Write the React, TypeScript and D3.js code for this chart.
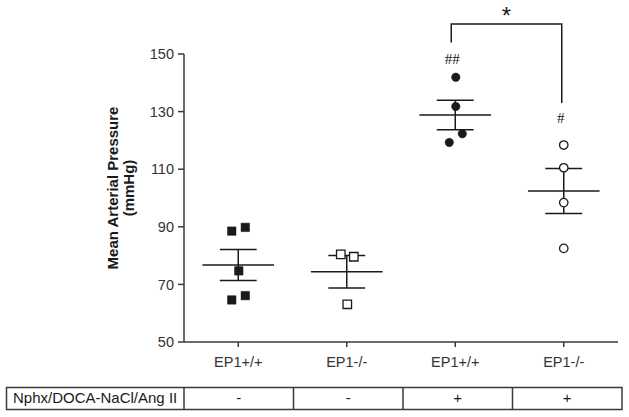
import React from "react";
import * as d3 from "d3";

// ---- data ----
const categories = ["EP1+/+", "EP1-/-", "EP1+/+", "EP1-/-"];
const treatment = ["-", "-", "+", "+"];
const treatmentLabel = "Nphx/DOCA-NaCl/Ang II";
const wtControl = [88.5, 89.8, 74.7, 64.6, 66.1];
const koControl = [80.4, 79.6, 63.1];
const wtTreated = [141.9, 131.8, 122.3, 119.3];
const koTreated = [118.4, 110.5, 98.4, 82.5];
// horizontal scatter of points, as a fraction of the category step
const wtControlJitter = [-0.06, 0.065, 0.005, -0.06, 0.065];
const koControlJitter = [-0.055, 0.065, 0.005];
const wtTreatedJitter = [0.005, 0.005, 0.065, -0.055];
const koTreatedJitter = [0, 0, 0, 0];
const yTicks = [50, 70, 90, 110, 130, 150];
const yTitle = ["Mean Arterial Pressure", "(mmHg)"];
const groupMarks = ["", "", "##", "#"];
const sigLabel = "*";

const groups = [
  { values: wtControl, jitter: wtControlJitter, shape: "square", filled: true },
  { values: koControl, jitter: koControlJitter, shape: "square", filled: false },
  { values: wtTreated, jitter: wtTreatedJitter, shape: "circle", filled: true },
  { values: koTreated, jitter: koTreatedJitter, shape: "circle", filled: false },
];

const W = 629;
const H = 417;
const SANS = "'Liberation Sans', Arial, sans-serif";
const SERIF = "'Liberation Serif', 'Times New Roman', serif";
const INK = "#1a1a1a";
const AX = "#3a3a3a";

export default function App() {
  const idx = categories.map((_, i) => String(i));
  const x = d3.scalePoint<string>().domain(idx).range([184, 618]).padding(0.5);
  const step = x.step();
  const y = d3.scaleLinear().domain([50, 150]).range([342, 54]);
  const tableX = d3.scaleBand<string>().domain(idx).range([184, 622]);

  const squarePath = d3.symbol().type(d3.symbolSquare).size(72)()!;
  const circlePath = d3.symbol().type(d3.symbolCircle).size(56)()!;

  const stats = groups.map((g) => {
    const m = d3.mean(g.values)!;
    const sd = d3.deviation(g.values)!;
    return { mean: m, sem: sd / Math.sqrt(g.values.length) };
  });

  const meanHalf = step * 0.33;
  const capHalf = step * 0.17;

  // significance bracket between treated groups
  const bx1 = x("2")! - 4;
  const bx2 = x("3")! - 2;
  const by = 24;

  return (
    <svg width={W} height={H} style={{ position: "absolute", left: 0, top: 0, background: "#fff" }}>
      {/* y axis */}
      <line x1={184} x2={184} y1={y(150)} y2={y(50)} stroke={AX} strokeWidth={1.5} />
      {yTicks.map((t) => (
        <g key={t}>
          <line x1={178} x2={184} y1={y(t)} y2={y(t)} stroke={AX} strokeWidth={1.5} />
          <text x={174} y={y(t)} dy="0.36em" textAnchor="end" fontFamily={SANS} fontSize={14.5} fill="#333">
            {t}
          </text>
        </g>
      ))}
      {/* x axis */}
      <line x1={184} x2={618} y1={y(50)} y2={y(50)} stroke={AX} strokeWidth={1.5} />
      {idx.map((k, i) => (
        <g key={k}>
          <line x1={x(k)} x2={x(k)} y1={y(50)} y2={y(50) + 5} stroke={AX} strokeWidth={1.5} />
          <text x={x(k)} y={367} textAnchor="middle" fontFamily={SANS} fontSize={14.5} fill="#333">
            {categories[i]}
          </text>
        </g>
      ))}
      {/* y title */}
      <g transform={`translate(118,188) rotate(-90)`}>
        <text x={0} y={0} textAnchor="middle" fontFamily={SANS} fontSize={15} fontWeight="bold" fill={INK}>
          {yTitle[0]}
        </text>
      </g>
      <g transform={`translate(134,188) rotate(-90)`}>
        <text x={0} y={0} textAnchor="middle" fontFamily={SANS} fontSize={15} fontWeight="bold" fill={INK}>
          {yTitle[1]}
        </text>
      </g>

      {/* mean ± SEM */}
      {groups.map((g, i) => {
        const cx = x(String(i))!;
        const s = stats[i];
        return (
          <g key={"e" + i} stroke={INK} strokeWidth={1.5}>
            <line x1={cx} x2={cx} y1={y(s.mean + s.sem)} y2={y(s.mean - s.sem)} />
            <line x1={cx - capHalf} x2={cx + capHalf} y1={y(s.mean + s.sem)} y2={y(s.mean + s.sem)} />
            <line x1={cx - capHalf} x2={cx + capHalf} y1={y(s.mean - s.sem)} y2={y(s.mean - s.sem)} />
            <line x1={cx - meanHalf} x2={cx + meanHalf} y1={y(s.mean)} y2={y(s.mean)} />
          </g>
        );
      })}

      {/* points */}
      {groups.map((g, i) =>
        g.values.map((v, j) => (
          <path
            key={`p${i}-${j}`}
            d={g.shape === "square" ? squarePath : circlePath}
            transform={`translate(${x(String(i))! + g.jitter[j] * step},${y(v)})`}
            fill={g.filled ? INK : "#fff"}
            stroke={INK}
            strokeWidth={g.filled ? 0.5 : 1.3}
          />
        ))
      )}

      {/* group marks */}
      {groupMarks.map((m, i) =>
        m ? (
          <text
            key={"m" + i}
            x={x(String(i))! - 3}
            y={i === 2 ? 64 : 123}
            textAnchor="middle"
            fontFamily={SERIF}
            fontSize={15}
            fill={INK}
          >
            {m}
          </text>
        ) : null
      )}

      {/* significance bracket */}
      <path d={`M${bx1},${42.5}V${by}H${bx2}V${103}`} fill="none" stroke={INK} strokeWidth={1.5} />
      <text x={(bx1 + bx2) / 2} y={24} textAnchor="middle" fontFamily={SANS} fontSize={24} fill={INK}>
        {sigLabel}
      </text>

      {/* treatment table */}
      <rect x={6.5} y={387.5} width={622 - 6.5} height={22} fill="none" stroke={AX} strokeWidth={1.5} />
      {idx.map((k, i) => (
        <g key={"t" + k}>
          <line x1={tableX(k)} x2={tableX(k)} y1={387.5} y2={409.5} stroke={AX} strokeWidth={1.5} />
          <text
            x={tableX(k)! + tableX.bandwidth() / 2}
            y={403}
            textAnchor="middle"
            fontFamily={SANS}
            fontSize={15}
            fill={INK}
          >
            {treatment[i]}
          </text>
        </g>
      ))}
      <text x={13} y={403} fontFamily={SANS} fontSize={15} fill={INK}>
        {treatmentLabel}
      </text>
    </svg>
  );
}
